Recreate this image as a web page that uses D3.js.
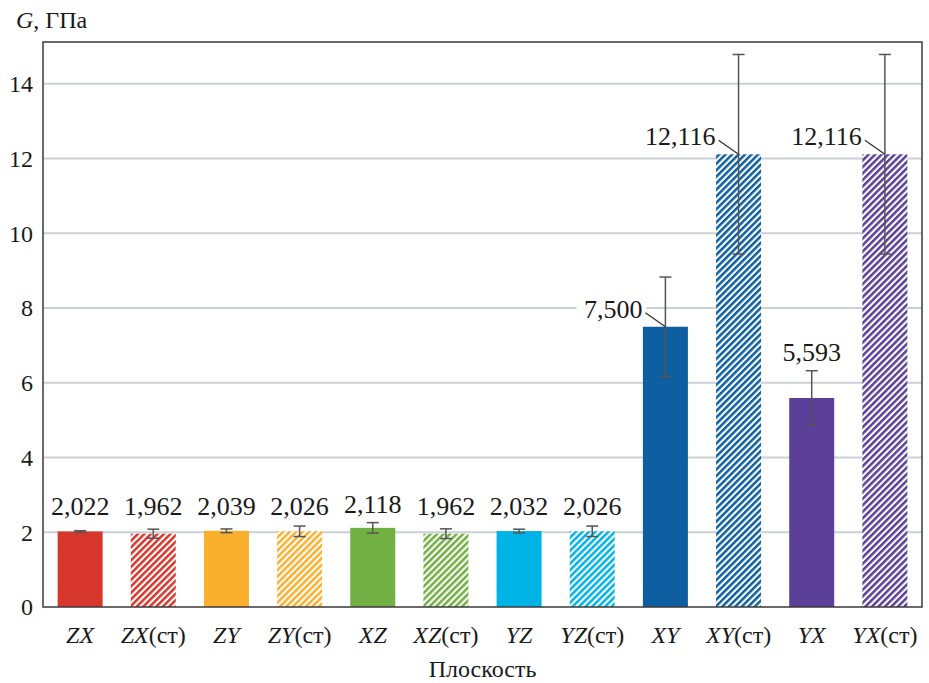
<!DOCTYPE html>
<html>
<head>
<meta charset="utf-8">
<script src="https://cdn.jsdelivr.net/npm/d3@7"></script>
<style>
  html, body { margin: 0; padding: 0; background: #fff; }
  svg { display: block; }
</style>
</head>
<body>
<svg id="chart" width="929" height="683" font-family="Liberation Serif, Times New Roman, Times, serif"></svg>
<script>
// ---- data ----
const planes   = ["ZX", "ZX", "ZY", "ZY", "XZ", "XZ", "YZ", "YZ", "XY", "XY", "YX", "YX"];
const isStd    = [false, true, false, true, false, true, false, true, false, true, false, true];
const values   = [2.022, 1.962, 2.039, 2.026, 2.118, 1.962, 2.032, 2.026, 7.500, 12.116, 5.593, 12.116];
const errors   = [0.02, 0.12, 0.05, 0.14, 0.14, 0.13, 0.05, 0.14, 1.33, 2.67, 0.73, 2.67];
const yTicks   = [0, 2, 4, 6, 8, 10, 12, 14];
const planeColors = { ZX: "#d6362b", ZY: "#fbb02d", XZ: "#72b043", YZ: "#00b3e6", XY: "#0e5fa1", YX: "#5b3f99" };
const yTitle = { italic: "G", rest: ", ГПа" };
const xTitle = "Плоскость";
const stdSuffix = "(ст)";

// ---- layout ----
const FONT = "'Liberation Serif', 'Times New Roman', Times, serif";
const svg = d3.select("#chart");
const L = 43, R = 922, T = 42, B = 607;
const yMax = 15.12;

const keys = planes.map((p, i) => p + (isStd[i] ? stdSuffix : ""));
const x = d3.scaleBand().domain(keys).range([L, R]).paddingInner(0.385).paddingOuter(0.2);
const y = d3.scaleLinear().domain([0, yMax]).range([B, T]);

const fmt = d3.formatLocale({ decimal: ",", thousands: " ", grouping: [3], currency: ["", ""] }).format(".3f");

// patterns
const defs = svg.append("defs");
Object.entries(planeColors).forEach(([k, c]) => {
  const p = defs.append("pattern")
    .attr("id", "hatch-" + k)
    .attr("patternUnits", "userSpaceOnUse")
    .attr("width", 4.6).attr("height", 10)
    .attr("patternTransform", "rotate(45)");
  p.append("rect").attr("width", 4.6).attr("height", 10).attr("fill", "#fff");
  p.append("rect").attr("width", 2.5).attr("height", 10).attr("fill", c);
});

// gridlines
svg.append("g").selectAll("line").data(yTicks.filter(d => d > 0)).join("line")
  .attr("x1", L).attr("x2", R)
  .attr("y1", d => y(d)).attr("y2", d => y(d))
  .attr("stroke", "#c9d1d5").attr("stroke-width", 2);

function txt(sel) {
  return sel.style("font-family", FONT).attr("fill", "#1a1a1a");
}

// y tick labels
txt(svg.append("g").selectAll("text").data(yTicks).join("text"))
  .attr("x", 33).attr("y", d => y(d)).attr("dy", "0.35em")
  .attr("text-anchor", "end").attr("font-size", 24)
  .text(d => d);

const data = values.map((v, i) => ({ key: keys[i], plane: planes[i], std: isStd[i], v, e: errors[i] }));
const side = d => d.e > 1;

// bars
svg.append("g").selectAll("rect").data(data).join("rect")
  .attr("x", d => x(d.key)).attr("width", x.bandwidth())
  .attr("y", d => y(d.v)).attr("height", d => y(0) - y(d.v))
  .attr("fill", d => d.std ? `url(#hatch-${d.plane})` : planeColors[d.plane]);

// error bars
const eb = svg.append("g").attr("stroke", "#555").attr("stroke-width", 1.5);
data.forEach(d => {
  const cx = x(d.key) + x.bandwidth() / 2;
  eb.append("line").attr("x1", cx).attr("x2", cx).attr("y1", y(d.v + d.e)).attr("y2", y(d.v - d.e));
  [d.v + d.e, d.v - d.e].forEach(vv => {
    eb.append("line").attr("x1", cx - 6).attr("x2", cx + 6).attr("y1", y(vv)).attr("y2", y(vv));
  });
});

// value labels
const lab = svg.append("g");
data.forEach(d => {
  const cx = x(d.key) + x.bandwidth() / 2;
  if (side(d)) {
    const ty = y(d.v) - 9;
    const tx = cx - 23;
    lab.append("rect").attr("x", tx - 66).attr("y", ty - 20).attr("width", 70).attr("height", 26).attr("fill", "#fff");
    txt(lab.append("text")).attr("x", tx).attr("y", ty)
      .attr("text-anchor", "end").attr("font-size", 26).text(fmt(d.v));
    lab.append("line").attr("x1", tx + 3).attr("y1", ty - 5).attr("x2", cx).attr("y2", y(d.v))
      .attr("stroke", "#333").attr("stroke-width", 1.3);
  } else {
    const by = Math.min(y(d.v + d.e) - 10, y(2.45));
    txt(lab.append("text")).attr("x", cx).attr("y", by)
      .attr("text-anchor", "middle").attr("font-size", 26).text(fmt(d.v));
  }
});

// frame
svg.append("rect").attr("x", L).attr("y", T).attr("width", R - L).attr("height", B - T)
  .attr("fill", "none").attr("stroke", "#3a3a3a").attr("stroke-width", 1.5);

// category labels
const cl = txt(svg.append("g").selectAll("text").data(data).join("text"))
  .attr("x", d => x(d.key) + x.bandwidth() / 2).attr("y", 643)
  .attr("text-anchor", "middle").attr("font-size", 24);
cl.append("tspan").attr("font-style", "italic").text(d => d.plane);
cl.filter(d => d.std).append("tspan").text(stdSuffix);

// axis titles
txt(svg.append("text")).attr("x", L + (R - L) / 2).attr("y", 677).attr("text-anchor", "middle")
  .attr("font-size", 24).text(xTitle);
const yt = txt(svg.append("text")).attr("x", 16).attr("y", 28).attr("font-size", 24);
yt.append("tspan").attr("font-style", "italic").text(yTitle.italic);
yt.append("tspan").text(yTitle.rest);
</script>
</body>
</html>
